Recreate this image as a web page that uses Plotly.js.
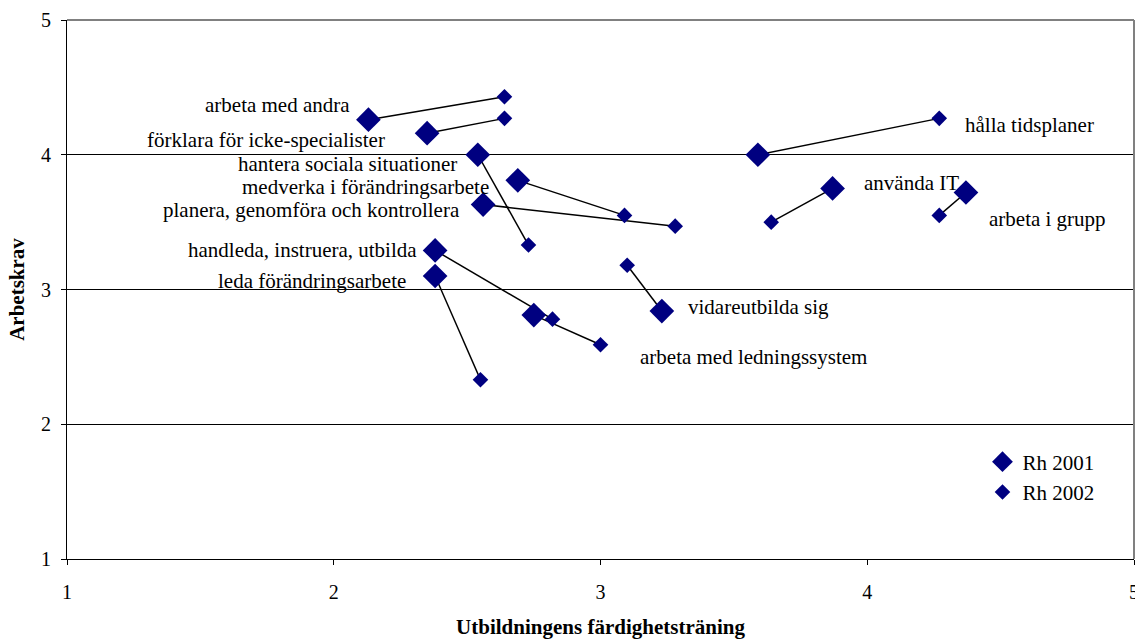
<!DOCTYPE html>
<html><head><meta charset="utf-8">
<script src="https://cdn.plot.ly/plotly-3.0.1.min.js"></script>
<style>html,body{margin:0;padding:0;background:#fff}</style>
</head><body>
<div id="chart" style="width:1135px;height:639px"></div>
<script>
var labels = ["arbeta med andra","förklara för icke-specialister","hantera sociala situationer","medverka i förändringsarbete","planera, genomföra och kontrollera","handleda, instruera, utbilda","leda förändringsarbete","vidareutbilda sig","arbeta med ledningssystem","hålla tidsplaner","använda IT","arbeta i grupp"];
var x2001 = [2.13, 2.35, 2.54, 2.69, 2.56, 2.38, 2.38, 3.23, 2.75, 3.59, 3.87, 4.37];
var y2001 = [4.26, 4.16, 4.00, 3.81, 3.63, 3.29, 3.10, 2.84, 2.81, 4.00, 3.75, 3.72];
var x2002 = [2.64, 2.64, 2.73, 3.09, 3.28, 2.82, 2.55, 3.10, 3.00, 4.27, 3.64, 4.27];
var y2002 = [4.43, 4.27, 3.33, 3.55, 3.47, 2.78, 2.33, 3.18, 2.59, 4.27, 3.50, 3.55];
// label anchor positions (data coords) and alignment
var labelX = [2.07, 2.20, 2.47, 2.59, 2.48, 2.32, 2.28, 3.32, 3.14, 4.36, 3.98, 4.45];
var labelY = [4.37, 4.11, 3.93, 3.76, 3.59, 3.29, 3.06, 2.87, 2.50, 4.22, 3.79, 3.52];
var labelAlign = ["right","right","right","right","right","right","right","left","left","left","left","left"];

var lx = [], ly = [];
for (var i = 0; i < labels.length; i++) {
  lx.push(x2001[i], x2002[i], null);
  ly.push(y2001[i], y2002[i], null);
}
var navy = "#000080";
var font = "Liberation Serif";
var fs = 21;
var traces = [
  {x: lx, y: ly, mode: "lines", line: {color: "#000", width: 1.5}, showlegend: false, hoverinfo: "skip"},
  {x: x2001, y: y2001, mode: "markers", name: "Rh 2001", text: labels,
   marker: {symbol: "diamond", size: 19, color: navy}},
  {x: x2002, y: y2002, mode: "markers", name: "Rh 2002", text: labels,
   marker: {symbol: "diamond", size: 12, color: navy}}
];
var annotations = labels.map(function (t, i) {
  return {x: labelX[i], y: labelY[i], xref: "x", yref: "y", text: t, showarrow: false,
    xanchor: labelAlign[i], yanchor: "middle", font: {family: font, size: fs, color: "#000"}};
});
var layout = {
  width: 1135, height: 639,
  margin: {l: 67, r: 1, t: 20, b: 80},
  paper_bgcolor: "#fff", plot_bgcolor: "#fff",
  font: {family: font, size: fs, color: "#000"},
  xaxis: {range: [1, 5], tickvals: [1, 2, 3, 4, 5], showgrid: false, zeroline: false,
    showline: true, linecolor: "#000", linewidth: 1, ticks: "outside", ticklen: 5, tickcolor: "#000",
    tickfont: {family: font, size: 20}, fixedrange: true, ticklabeloverflow: "allow", ticklabelstandoff: 10,
    title: {text: "<b>Utbildningens färdighetsträning</b>", font: {family: font, size: 21}, standoff: 20}},
  yaxis: {range: [1, 5], tickvals: [1, 2, 3, 4, 5], showgrid: true, gridcolor: "#000", gridwidth: 1,
    zeroline: false, showline: true, linecolor: "#000", linewidth: 1, ticks: "outside", ticklen: 5, tickcolor: "#000",
    tickfont: {family: font, size: 20}, fixedrange: true, ticklabelstandoff: 6,
    title: {text: "<b>Arbetskrav</b>", font: {family: font, size: 21}, standoff: 10}},
  shapes: [
    {type: "line", xref: "paper", yref: "paper", x0: 0, x1: 1, y0: 1, y1: 1, line: {color: "#808080", width: 2}},
    {type: "line", xref: "paper", yref: "paper", x0: 1, x1: 1, y0: 0, y1: 1, line: {color: "#808080", width: 2}}
  ],
  legend: {x: 0.858, y: 0.218, xanchor: "left", yanchor: "top", bgcolor: "rgba(0,0,0,0)",
    font: {family: font, size: 21}, itemsizing: "trace", tracegroupgap: 0},
  annotations: annotations,
  hovermode: "closest"
};
Plotly.newPlot("chart", traces, layout, {displayModeBar: false, staticPlot: true});
</script>
</body></html>
